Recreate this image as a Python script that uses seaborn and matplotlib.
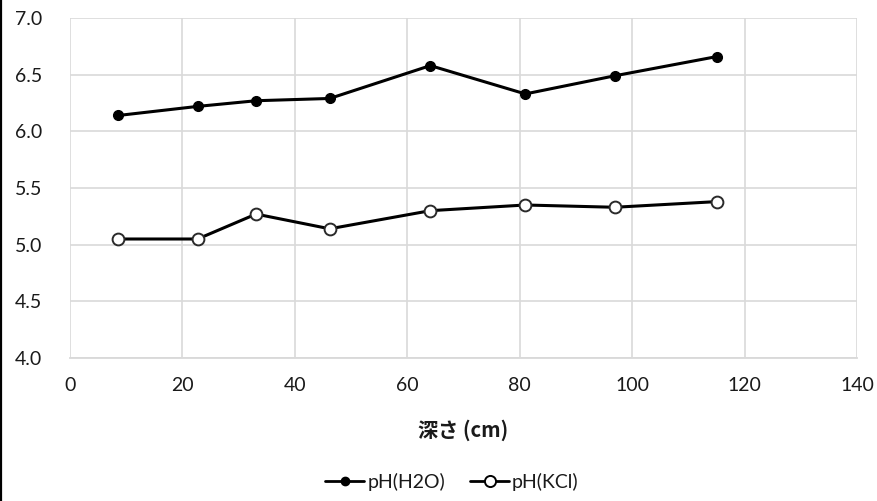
import matplotlib
matplotlib.use("Agg")
import matplotlib.pyplot as plt
from matplotlib.lines import Line2D
import seaborn as sns
import pandas as pd

# Soil pH profile by depth
depth_cm = [8.6, 22.7, 33.1, 46.2, 64.1, 81.0, 96.9, 115.1]
ph_h2o = [6.14, 6.22, 6.27, 6.29, 6.58, 6.33, 6.49, 6.66]
ph_kcl = [5.05, 5.05, 5.27, 5.14, 5.30, 5.35, 5.33, 5.38]
series_names = ["pH(H2O)", "pH(KCl)"]
x_ticks = [0, 20, 40, 60, 80, 100, 120, 140]
y_ticks = [4.0, 4.5, 5.0, 5.5, 6.0, 6.5, 7.0]

df = pd.DataFrame({
    "depth": depth_cm * 2,
    "pH": ph_h2o + ph_kcl,
    "series": [series_names[0]] * len(depth_cm) + [series_names[1]] * len(depth_cm),
})

sns.set_theme(style="white")
plt.rcParams["font.family"] = ["Lato", "Noto Sans CJK JP", "DejaVu Sans"]

fig = plt.figure(figsize=(8.78, 5.01), dpi=100)
ax = fig.add_axes([70 / 878, 1 - 358 / 501, (857 - 70) / 878, (358 - 18) / 501])

grid_col = "#d9d9d9"
text_col = "#1a1a1a"
sns.lineplot(data=df[df.series == series_names[0]], x="depth", y="pH", ax=ax,
             color="black", linewidth=2.2, marker="o", markersize=7,
             markerfacecolor="black", markeredgecolor="black", markeredgewidth=1,
             label=series_names[0], legend=False)
sns.lineplot(data=df[df.series == series_names[1]], x="depth", y="pH", ax=ax,
             color="black", linewidth=2.2, marker="o", markersize=8.5,
             markerfacecolor="white", markeredgecolor="#2a2a2a", markeredgewidth=1.4,
             label=series_names[1], legend=False)

ax.set_xlim(0, 140)
ax.set_ylim(4.0, 7.0)
ax.set_xticks(x_ticks)
ax.set_yticks(y_ticks)
ax.set_xticklabels([str(t) for t in x_ticks])
ax.set_yticklabels([f"{t:.1f}" for t in y_ticks])
ax.grid(True, color=grid_col, linewidth=1.2)
ax.set_axisbelow(True)
for side in ["top", "right", "left"]:
    ax.spines[side].set_visible(False)
ax.spines["bottom"].set_color(grid_col)
ax.spines["bottom"].set_linewidth(1.3)
ax.tick_params(axis="both", length=0, labelsize=14, colors=text_col)
ax.tick_params(axis="y", pad=20)
ax.tick_params(axis="x", pad=14)

ax.set_xlabel("深さ (cm)", fontsize=14.5, fontweight="bold",
              family=["Noto Sans CJK JP", "DejaVu Sans"], labelpad=18, color=text_col)
ax.set_ylabel("")

handles = [
    Line2D([], [], color="black", linewidth=2, marker="o", markersize=6,
           markerfacecolor="black", markeredgecolor="black"),
    Line2D([], [], color="black", linewidth=2, marker="o", markersize=8,
           markerfacecolor="white", markeredgecolor="black", markeredgewidth=1.4),
]
leg = fig.legend(handles, series_names, loc="center", bbox_to_anchor=(452 / 878, 1 - 482 / 501),
                 ncol=2, frameon=False, fontsize=14, handlelength=2.0, handletextpad=0.15,
                 columnspacing=1.3)
for t in leg.get_texts():
    t.set_color(text_col)

# thin frame line along the left edge
fig.add_artist(Line2D([0.0012, 0.0012], [0, 1], transform=fig.transFigure,
                      color="black", linewidth=1.6))

fig.savefig("out.png", dpi=100)
